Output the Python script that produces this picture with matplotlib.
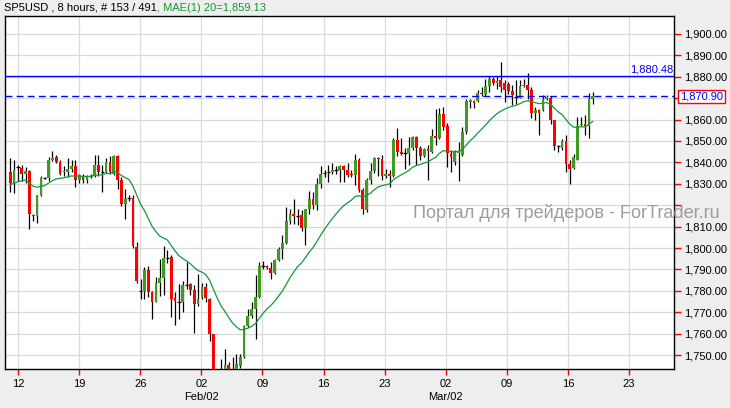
import matplotlib
matplotlib.use("Agg")
import matplotlib.pyplot as plt
from matplotlib.transforms import blended_transform_factory
import numpy as np

plt.rcParams['font.family'] = ['Liberation Sans', 'DejaVu Sans']

# ---- data (8-hour candles) ----
opens = [1835.6, 1830.6, 1838.0, 1837.5, 1834.8, 1836.0, 1815.5, 1815.0, 1824.7, 1832.8,
         1832.8, 1841.1, 1842.7, 1840.0, 1835.3, 1835.5, 1837.0, 1838.3, 1832.0, 1833.0,
         1832.0, 1833.6, 1833.6, 1838.8, 1835.3, 1835.6, 1840.0, 1834.8, 1843.1, 1832.0,
         1820.5, 1823.4, 1823.4, 1800.5, 1779.8, 1779.8, 1789.5, 1779.4, 1775.0, 1783.6,
         1786.0, 1795.5, 1795.8, 1776.5, 1775.0, 1775.0, 1782.8, 1783.0, 1780.6, 1773.8,
         1776.9, 1782.0, 1776.2, 1759.8, 1741.0, 1737.0, 1739.0, 1745.5, 1740.0, 1741.0,
         1745.0, 1749.0, 1763.5, 1768.1, 1771.3, 1777.0, 1791.4, 1791.6, 1790.6, 1788.4,
         1794.2, 1799.7, 1802.5, 1812.5, 1816.1, 1814.8, 1815.3, 1809.4, 1818.1, 1823.1,
         1820.3, 1829.7, 1835.2, 1835.3, 1835.3, 1836.4, 1836.4, 1838.3, 1836.4, 1834.5,
         1834.0, 1841.1, 1827.3, 1817.7, 1831.7, 1835.9, 1842.2, 1841.6, 1833.6, 1834.5,
         1833.6, 1850.5, 1844.7, 1844.2, 1844.2, 1846.9, 1852.0, 1846.9, 1843.1, 1846.1,
         1845.0, 1852.3, 1851.6, 1862.5, 1857.0, 1844.1, 1840.2, 1844.5, 1843.6, 1854.2,
         1868.3, 1868.5, 1868.75, 1872.5, 1871.9, 1875.6, 1878.9, 1877.2, 1878.4, 1876.9,
         1876.6, 1873.4, 1870.6, 1870.3, 1875.6, 1876.1, 1873.75, 1863.1, 1864.4, 1864.4,
         1869.4, 1870.3, 1859.7, 1847.5, 1846.9, 1850.0, 1839.4, 1837.3, 1841.25, 1857.3,
         1857.8, 1857.0, 1869.7]
highs = [1842.2, 1841.1, 1838.8, 1839.0, 1838.0, 1836.3, 1816.1, 1825.0, 1833.6, 1833.3,
         1842.7, 1845.3, 1843.4, 1841.1, 1838.4, 1841.9, 1841.1, 1841.1, 1834.4, 1834.4,
         1834.0, 1834.4, 1843.4, 1843.4, 1838.8, 1841.9, 1843.0, 1843.4, 1843.4, 1833.3,
         1827.8, 1824.7, 1824.7, 1802.8, 1785.6, 1791.0, 1791.4, 1780.0, 1786.4, 1795.0,
         1800.8, 1798.9, 1796.6, 1779.4, 1783.3, 1784.8, 1793.4, 1783.6, 1782.5, 1788.0,
         1783.6, 1783.6, 1776.5, 1760.0, 1742.5, 1748.3, 1753.0, 1746.5, 1749.2, 1750.3,
         1750.3, 1763.8, 1771.3, 1774.7, 1787.2, 1793.4, 1793.8, 1792.2, 1793.4, 1795.0,
         1800.5, 1805.9, 1819.2, 1818.4, 1822.8, 1818.4, 1817.7, 1818.4, 1826.6, 1826.3,
         1832.5, 1838.3, 1836.4, 1839.0, 1839.5, 1838.4, 1838.8, 1838.8, 1839.5, 1836.4,
         1843.8, 1842.2, 1828.0, 1832.5, 1839.5, 1842.7, 1842.7, 1843.4, 1836.9, 1836.4,
         1851.6, 1856.3, 1851.3, 1846.6, 1852.0, 1852.5, 1852.5, 1847.5, 1846.6, 1848.2,
         1855.5, 1865.0, 1865.5, 1866.0, 1858.5, 1845.6, 1845.6, 1849.5, 1856.6, 1869.4,
         1869.4, 1869.3, 1874.0, 1875.3, 1879.2, 1880.3, 1880.0, 1880.3, 1887.0, 1878.4,
         1877.7, 1876.1, 1878.4, 1878.4, 1879.2, 1881.9, 1875.3, 1865.9, 1865.0, 1871.4,
         1871.4, 1871.0, 1860.0, 1848.0, 1851.1, 1852.7, 1840.9, 1844.0, 1861.25, 1861.25,
         1862.0, 1872.2, 1873.0]
lows = [1826.3, 1825.8, 1831.3, 1831.3, 1830.2, 1809.1, 1812.5, 1811.9, 1824.5, 1832.3,
        1831.4, 1840.8, 1839.5, 1834.0, 1833.6, 1833.3, 1835.6, 1828.6, 1830.2, 1830.2,
        1830.2, 1832.5, 1833.0, 1833.6, 1826.3, 1835.0, 1834.5, 1834.0, 1827.8, 1819.5,
        1813.4, 1822.0, 1800.0, 1783.8, 1776.0, 1776.0, 1777.0, 1766.9, 1774.7, 1777.8,
        1778.0, 1793.0, 1767.7, 1763.8, 1766.9, 1770.0, 1781.0, 1778.0, 1760.3, 1773.0,
        1776.0, 1775.0, 1756.4, 1738.0, 1735.0, 1735.0, 1737.0, 1737.0, 1736.0, 1739.0,
        1744.0, 1748.5, 1763.0, 1767.5, 1757.5, 1776.5, 1790.0, 1790.0, 1785.6, 1788.0,
        1794.0, 1795.0, 1802.0, 1811.0, 1811.4, 1810.6, 1808.0, 1801.3, 1816.1, 1818.0,
        1817.7, 1828.0, 1833.0, 1831.0, 1834.5, 1834.8, 1831.0, 1831.0, 1833.0, 1833.0,
        1829.4, 1826.0, 1816.1, 1817.0, 1830.0, 1835.0, 1833.6, 1832.0, 1832.5, 1828.6,
        1833.0, 1843.0, 1843.5, 1836.9, 1838.8, 1846.0, 1838.8, 1841.0, 1842.5, 1831.7,
        1844.5, 1848.0, 1851.0, 1855.0, 1838.0, 1835.5, 1839.0, 1831.3, 1843.0, 1853.5,
        1865.6, 1865.5, 1868.3, 1871.0, 1871.0, 1873.0, 1876.0, 1874.5, 1873.0, 1868.3,
        1872.0, 1866.7, 1867.5, 1870.0, 1875.0, 1869.8, 1860.9, 1859.7, 1852.7, 1864.0,
        1869.0, 1858.0, 1846.0, 1845.0, 1846.0, 1835.5, 1829.7, 1837.0, 1841.0, 1857.0,
        1853.0, 1851.6, 1867.2]
closes = [1830.6, 1836.4, 1838.0, 1834.8, 1836.1, 1815.8, 1814.8, 1824.7, 1832.8, 1832.8,
          1841.1, 1842.2, 1840.0, 1834.8, 1835.8, 1837.0, 1838.2, 1832.0, 1834.0, 1832.0,
          1833.3, 1833.6, 1838.8, 1835.6, 1835.3, 1840.0, 1835.6, 1843.1, 1832.0, 1820.5,
          1823.1, 1823.4, 1800.9, 1784.4, 1779.8, 1789.5, 1779.4, 1775.0, 1783.6, 1786.0,
          1795.3, 1795.5, 1776.2, 1775.3, 1775.0, 1782.8, 1782.8, 1780.6, 1773.8, 1776.0,
          1782.0, 1776.6, 1759.8, 1741.0, 1737.0, 1739.0, 1745.5, 1740.0, 1741.0, 1745.8,
          1749.0, 1763.5, 1768.1, 1771.3, 1777.0, 1791.6, 1791.4, 1790.6, 1788.4, 1794.2,
          1799.7, 1802.5, 1812.5, 1816.1, 1814.8, 1814.8, 1809.4, 1818.1, 1823.1, 1820.3,
          1829.7, 1834.5, 1835.2, 1835.3, 1836.4, 1836.4, 1838.3, 1836.4, 1834.0, 1834.0,
          1841.1, 1827.3, 1818.0, 1831.7, 1835.9, 1841.9, 1841.6, 1833.6, 1834.5, 1833.6,
          1850.5, 1844.7, 1844.1, 1844.2, 1846.9, 1852.0, 1846.6, 1843.1, 1846.1, 1845.3,
          1852.3, 1851.6, 1862.5, 1856.6, 1844.4, 1842.5, 1844.8, 1845.5, 1854.2, 1868.75,
          1869.0, 1867.8, 1872.5, 1872.0, 1875.6, 1878.9, 1877.2, 1878.1, 1875.0, 1873.75,
          1873.4, 1871.4, 1870.6, 1875.6, 1876.1, 1873.75, 1863.1, 1864.4, 1863.1, 1869.8,
          1870.6, 1859.7, 1847.5, 1847.5, 1850.0, 1839.1, 1837.0, 1842.5, 1856.9, 1857.8,
          1857.0, 1869.8, 1870.9]

ema_period = 20
ema_start = 1829.5          # MA value just before the first visible candle
resistance = 1880.48
last_price = 1870.90

week_labels = ['12', '19', '26', '02', '09', '16', '23', '02', '09', '16', '23']
month_labels = {3: 'Feb/02', 7: 'Mar/02'}
y_ticks = [1750, 1760, 1770, 1780, 1790, 1800, 1810, 1820, 1830, 1840, 1850,
           1860, 1870, 1880, 1890, 1900]
y_hidden_labels = [1820, 1870]   # covered by watermark / last-price box in the reference

# ---- figure ----
W, H = 730, 408
fig = plt.figure(figsize=(W / 100, H / 100), dpi=100, facecolor='#eeeeee')
ax = fig.add_axes([4.5 / W, 1 - 369 / H, (674 - 4.5) / W, (369 - 16) / H])
ax.set_facecolor('white')

n = len(closes)
x = np.arange(1, n + 1)
o = np.array(opens); c = np.array(closes); h = np.array(highs); l = np.array(lows)

ax.set_xlim(-0.51, 174.2)
ax.set_ylim(1743.46, 1908.41)

# grid
week_pos = [3.0 + 15.95 * k for k in range(len(week_labels))]
for v in range(1750, 1910, 10):
    ax.axhline(v, color='#dadada', lw=0.9, zorder=0)
for p in week_pos:
    ax.axvline(p, color='#dadada', lw=0.9, zorder=0)

# candles
green = '#3f9a22'
red = '#ff0000'
ax.vlines(x, l, h, color='black', lw=0.9, zorder=2)
up = c > o
dn = c < o
eq = c == o
ax.bar(x[up], (c - o)[up], bottom=o[up], width=0.72, color=green, zorder=3, linewidth=0)
ax.bar(x[dn], (c - o)[dn], bottom=o[dn], width=0.72, color=red, zorder=3, linewidth=0)
ax.hlines(c[eq], x[eq] - 0.45, x[eq] + 0.45, color='black', lw=0.9, zorder=3)

# EMA
alpha = 2.0 / (ema_period + 1)
ema = []
prev = ema_start
for v in closes:
    prev = prev + alpha * (v - prev)
    ema.append(prev)
ax.plot(x, ema, color='#11993a', lw=0.9, zorder=4)

# horizontal lines
ax.axhline(resistance, color='#0000ff', lw=1.0, zorder=5)
ax.axhline(last_price, color='#0000ff', lw=1.0, ls=(0, (5, 3)), zorder=5)
ax.text(173.9, resistance + 0.4, f'{resistance:,.2f}', color='#0000ff', fontsize=8,
        ha='right', va='bottom', zorder=6)

# axes styling
for s in ax.spines.values():
    s.set_color('black')
    s.set_linewidth(1.0)
ax.yaxis.tick_right()
ax.set_yticks(y_ticks)
ax.set_yticklabels(['' if v in y_hidden_labels else f'{v:,.2f}' for v in y_ticks])
ax.tick_params(axis='y', colors='red', labelcolor='black', length=5, width=1,
               labelsize=8, pad=2, direction='out')
ax.set_xticks(week_pos)
ax.set_xticklabels(week_labels)
ax.tick_params(axis='x', colors='red', labelcolor='black', length=4, width=1,
               labelsize=8, pad=3, direction='out')
ax.tick_params(axis='both', which='both', right=True, left=False, top=False)

# month labels
tr = blended_transform_factory(ax.transData, fig.transFigure)
for k, lab in month_labels.items():
    ax.text(week_pos[k], 1 - 397 / H, lab, transform=tr, ha='center', va='center',
            fontsize=8, color='black')

# last price box
trb = blended_transform_factory(ax.transAxes, ax.transData)
ax.text(1.0 + 6 / 669.5, last_price, f'{last_price:,.2f}', transform=trb, color='#0000ff',
        fontsize=8, ha='left', va='center', clip_on=False,
        bbox=dict(boxstyle='square,pad=0.15', facecolor='white', edgecolor='red', lw=1))

# title
t1 = fig.text(4 / W, 1 - 8 / H, 'SP5USD , 8 hours, # 153 / 491', fontsize=8,
              color='black', ha='left', va='center')
fig.canvas.draw()
bb = t1.get_window_extent(renderer=fig.canvas.get_renderer())
fig.text(bb.x1 / W, 1 - 8 / H, f', MAE(1) {ema_period}={ema[-1]:,.2f}', fontsize=8,
         color='#119933', ha='left', va='center')

# watermark
fig.text(413 / W, 1 - 213 / H, 'Портал для трейдеров - ForTrader.ru', fontsize=13.1,
         color='#a39b9b', ha='left', va='center', zorder=10)

fig.savefig('out.png', dpi=100, facecolor=fig.get_facecolor())
